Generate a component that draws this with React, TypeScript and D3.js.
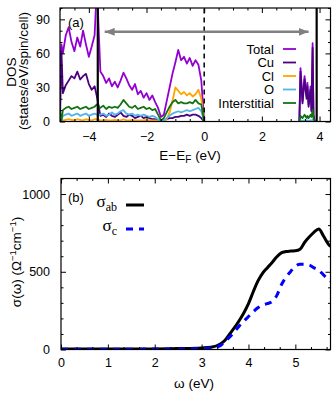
import React, { useEffect, useRef } from "react";
import * as d3 from "d3";

// ---- panel (a): DOS, states/eV/spin/cell ----
// valence states left of the core edge
const energyA = [-5.0, -4.95, -4.9, -4.8, -4.7, -4.6, -4.5, -4.4, -4.3, -4.2, -4.1, -4.0, -3.9, -3.8, -3.72];
const totalA = [45, 68, 60, 76, 83, 70, 62, 74, 66, 80, 68, 57, 66, 76, 120];
const cuA = [0, 62, 25, 32, 36, 40, 38, 44, 37, 40, 42, 33, 28, 31, 22];
const clA = [1, 0, 1, 1.5, 2, 1.5, 1, 2, 1.5, 1, 2, 1.5, 1, 2, 2];
const oA = [6, 1, 5, 6, 7, 5, 6, 7, 5, 6, 7, 5, 6, 7, 6];
const intA = [10, 1, 10, 12, 13, 11, 12, 13, 11, 12, 13, 11, 12, 13, 15];

// valence states between the core edge and E_F
const energyB = [
  -3.6, -3.5, -3.4, -3.3, -3.2, -3.1, -3.0, -2.9, -2.8, -2.7, -2.6, -2.5, -2.4, -2.3, -2.2, -2.1, -2.0, -1.9, -1.8,
  -1.7, -1.6, -1.5, -1.4, -1.3, -1.2, -1.1, -1.0, -0.9, -0.8, -0.7, -0.6, -0.5, -0.4, -0.3, -0.2, -0.1, 0.0,
];
const totalB = [44, 40, 34, 38, 31, 35, 30, 36, 43, 38, 32, 28, 33, 24, 27, 21, 25, 19, 23, 17, 12, 4, 6, 18, 30, 42, 52, 63, 54, 57, 51, 56, 49, 54, 50, 36, 0];
const cuB = [5, 6, 4, 7, 5, 4, 6, 8, 5, 4, 6, 5, 3, 4, 5, 3, 4, 3, 2, 2, 1, 0, 1, 2, 3, 3, 4, 4, 5, 5, 6, 5, 6, 6, 5, 3, 0];
const clB = [1, 1, 1.5, 1, 1, 1.5, 1, 1, 2, 1, 1, 1.5, 1, 1, 1, 1, 1.5, 1, 1, 1, 0.5, 0, 0.5, 2, 8, 18, 30, 27, 24, 26, 23, 25, 22, 24, 28, 20, 0];
const oB = [6, 7, 5, 6, 8, 6, 7, 9, 10, 7, 6, 7, 5, 6, 5, 6, 5, 4, 5, 4, 2, 0, 1, 3, 5, 7, 8, 9, 8, 9, 10, 9, 10, 11, 12, 9, 0];
const intB = [12, 14, 11, 13, 12, 13, 12, 15, 19, 16, 13, 12, 14, 11, 12, 13, 11, 12, 10, 11, 6, 1, 3, 8, 13, 17, 19, 16, 17, 16, 16, 17, 16, 19, 16, 15, 0];

// conduction states
const energyC = [3.3, 3.34, 3.41, 3.48, 3.55, 3.58, 3.62, 3.69, 3.72, 3.76, 3.79, 3.83];
const totalC = [0, 47, 18, 40, 22, 34, 15, 31, 10, 69, 6, 0];
const cuC = [0, 44, 16, 37, 20, 31, 13, 28, 9, 65, 5, 0];
const clC = [0, 0.5, 0.3, 0.5, 0.3, 0.5, 0.3, 0.5, 0.3, 0.8, 0.3, 0];
const oC = [0, 1, 0.5, 1, 0.5, 1, 0.5, 1, 0.5, 1.5, 0.5, 0];
const intC = [0, 5, 3, 6, 3, 5, 3, 6, 4, 10, 3, 0];

const dosNames = ["Total", "Cu", "Cl", "O", "Interstitial"];
const dosColors = ["#9400d3", "#4d0082", "#ffa500", "#56b4e9", "#127312"];

const coreEdges = [-3.69, 3.9];
const fermiLevel = 0;
const gapArrow = { from: -3.45, to: 3.62, level: 79 };

// ---- panel (b): optical conductivity ----
const omega = [0, 0.5, 1.0, 1.5, 2.0, 2.5, 3.0, 3.2, 3.4, 3.5, 3.6, 3.7, 3.8, 3.9, 4.0, 4.1, 4.2, 4.3, 4.4, 4.5, 4.6, 4.7, 4.8, 4.9, 5.0, 5.1, 5.2, 5.3, 5.4, 5.5, 5.6, 5.7, 5.75];
const sigmaAB = [3, 3, 3, 4, 4, 6, 10, 14, 35, 60, 100, 140, 185, 235, 295, 370, 440, 490, 525, 558, 595, 622, 630, 633, 635, 645, 690, 725, 755, 775, 730, 680, 662];
const sigmaC = [2, 2, 2, 2, 3, 4, 6, 9, 25, 52, 80, 115, 150, 182, 212, 242, 268, 285, 295, 308, 345, 415, 465, 502, 535, 548, 548, 543, 525, 510, 480, 452, 440];

const W = 332;
const H = 393;
const FONT = "'Liberation Sans', Arial, sans-serif";
const SERIF = "'Liberation Serif', 'Times New Roman', serif";

function frame(g, x, y, xMajor, xMinor, yMajor, yMinor, xPad, yPad) {
  const [xl, xr] = x.range();
  const [yb, yt] = y.range();
  const style = (sel) => {
    sel.select(".domain").remove();
    sel.selectAll("line").attr("stroke", "#000").attr("stroke-width", 1);
    sel.attr("font-family", FONT).attr("font-size", 12.5);
    sel.selectAll("text").attr("fill", "#000");
  };
  const blank = () => "";
  const fmt = d3.format("d");
  g.append("g").attr("transform", `translate(0,${yb})`)
    .call(d3.axisBottom(x).tickValues(xMajor).tickSizeInner(-5).tickSizeOuter(0).tickPadding(xPad).tickFormat(fmt)).call(style);
  g.append("g").attr("transform", `translate(0,${yb})`)
    .call(d3.axisBottom(x).tickValues(xMinor).tickSizeInner(-2.5).tickSizeOuter(0).tickFormat(blank)).call(style);
  g.append("g").attr("transform", `translate(0,${yt})`)
    .call(d3.axisTop(x).tickValues(xMajor).tickSizeInner(-5).tickSizeOuter(0).tickFormat(blank)).call(style);
  g.append("g").attr("transform", `translate(0,${yt})`)
    .call(d3.axisTop(x).tickValues(xMinor).tickSizeInner(-2.5).tickSizeOuter(0).tickFormat(blank)).call(style);
  g.append("g").attr("transform", `translate(${xl},0)`)
    .call(d3.axisLeft(y).tickValues(yMajor).tickSizeInner(-5).tickSizeOuter(0).tickPadding(yPad).tickFormat(fmt)).call(style);
  g.append("g").attr("transform", `translate(${xl},0)`)
    .call(d3.axisLeft(y).tickValues(yMinor).tickSizeInner(-2.5).tickSizeOuter(0).tickFormat(blank)).call(style);
  g.append("g").attr("transform", `translate(${xr},0)`)
    .call(d3.axisRight(y).tickValues(yMajor).tickSizeInner(-5).tickSizeOuter(0).tickFormat(blank)).call(style);
  g.append("g").attr("transform", `translate(${xr},0)`)
    .call(d3.axisRight(y).tickValues(yMinor).tickSizeInner(-2.5).tickSizeOuter(0).tickFormat(blank)).call(style);
  g.append("rect")
    .attr("x", xl).attr("y", yt).attr("width", xr - xl).attr("height", yb - yt)
    .attr("fill", "none").attr("stroke", "#000").attr("stroke-width", 1.2);
}

export default function App() {
  const ref = useRef(null);

  useEffect(() => {
    const svg = d3.select(ref.current);
    svg.selectAll("*").remove();

    // ---------- panel (a) ----------
    const xa = d3.scaleLinear().domain([-5.0, 4.38]).range([60, 330.5]);
    const ya = d3.scaleLinear().domain([0, 100]).range([121.5, 8]);

    const defs = svg.append("defs");
    defs.append("clipPath").attr("id", "clipA").append("rect")
      .attr("x", 60).attr("y", 8).attr("width", 270.5).attr("height", 113.5);
    defs.append("marker").attr("id", "head").attr("viewBox", "0 0 10 8")
      .attr("refX", 10).attr("refY", 4).attr("markerWidth", 10).attr("markerHeight", 8)
      .attr("markerUnits", "userSpaceOnUse").attr("orient", "auto-start-reverse")
      .append("path").attr("d", "M0,0 L10,4 L0,8 Z").attr("fill", "#808080");

    const ga = svg.append("g");
    const curves = ga.append("g").attr("clip-path", "url(#clipA)");
    const line = d3.line().x((d) => xa(d[0])).y((d) => ya(d[1]));

    const valenceE = energyA.concat(energyB);
    const valence = [
      totalA.concat(totalB), cuA.concat(cuB), clA.concat(clB), oA.concat(oB), intA.concat(intB),
    ];
    const conduction = [totalC, cuC, clC, oC, intC];

    dosNames.forEach((name, i) => {
      curves.append("path")
        .datum(valenceE.map((e, j) => [e, valence[i][j]]))
        .attr("fill", "none").attr("stroke", dosColors[i]).attr("stroke-width", 1.8)
        .attr("stroke-linejoin", "round").attr("d", line);
      curves.append("path")
        .datum(energyC.map((e, j) => [e, conduction[i][j]]))
        .attr("fill", "none").attr("stroke", dosColors[i]).attr("stroke-width", 1.8)
        .attr("stroke-linejoin", "round").attr("d", line);
    });

    coreEdges.forEach((e) => {
      ga.append("line").attr("x1", xa(e)).attr("x2", xa(e)).attr("y1", ya(0)).attr("y2", ya(100))
        .attr("stroke", "#000").attr("stroke-width", 2.2);
    });
    ga.append("line").attr("x1", xa(fermiLevel)).attr("x2", xa(fermiLevel)).attr("y1", ya(0)).attr("y2", ya(100))
      .attr("stroke", "#000").attr("stroke-width", 1.5).attr("stroke-dasharray", "5,4");

    ga.append("line")
      .attr("x1", xa(gapArrow.from)).attr("x2", xa(gapArrow.to))
      .attr("y1", ya(gapArrow.level)).attr("y2", ya(gapArrow.level))
      .attr("stroke", "#808080").attr("stroke-width", 2.5)
      .attr("marker-start", "url(#head)").attr("marker-end", "url(#head)");

    frame(ga, xa, ya, [-4, -2, 0, 2, 4], [-5, -4.5, -3.5, -3, -2.5, -1.5, -1, -0.5, 0.5, 1, 1.5, 2.5, 3, 3.5],
      [0, 30, 60, 90], [10, 20, 40, 50, 70, 80, 100], 10.5, 10);

    // legend (a)
    const lg = ga.append("g").attr("font-family", FONT).attr("font-size", 13);
    dosNames.forEach((name, i) => {
      const yy = 49 + i * 13.5;
      lg.append("text").attr("x", 274).attr("y", yy).attr("dy", "0.35em")
        .attr("text-anchor", "end").attr("fill", "#000").text(name);
      lg.append("line").attr("x1", 283).attr("x2", 296).attr("y1", yy).attr("y2", yy)
        .attr("stroke", dosColors[i]).attr("stroke-width", 1.8);
    });

    ga.append("text").attr("x", 68).attr("y", 26.5).attr("font-family", FONT).attr("font-size", 13).text("(a)");

    const xl = ga.append("text").attr("x", 190).attr("y", 159.5).attr("text-anchor", "middle")
      .attr("font-family", FONT).attr("font-size", 13.5);
    xl.append("tspan").text("E\u2212E");
    xl.append("tspan").attr("font-size", 10).attr("dy", 3).text("F");
    xl.append("tspan").attr("dy", -3).text(" (eV)");

    ga.append("text").attr("transform", "translate(16,72) rotate(-90)").attr("text-anchor", "middle")
      .attr("font-family", FONT).attr("font-size", 13.5).text("DOS");
    ga.append("text").attr("transform", "translate(28,71) rotate(-90)").attr("text-anchor", "middle")
      .attr("font-family", FONT).attr("font-size", 13.5).text("(states/eV/spin/cell)");

    // ---------- panel (b) ----------
    const xb = d3.scaleLinear().domain([0, 5.75]).range([61, 330.5]);
    const yb = d3.scaleLinear().domain([0, 1100]).range([349.5, 178.5]);
    defs.append("clipPath").attr("id", "clipB").append("rect")
      .attr("x", 61).attr("y", 178.5).attr("width", 269.5).attr("height", 171);

    const gb = svg.append("g");
    const lineB = d3.line().x((d) => xb(d[0])).y((d) => yb(d[1])).curve(d3.curveMonotoneX);
    const cb = gb.append("g").attr("clip-path", "url(#clipB)");
    cb.append("path").datum(omega.map((w, j) => [w, sigmaAB[j]]))
      .attr("fill", "none").attr("stroke", "#000").attr("stroke-width", 3).attr("d", lineB);
    cb.append("path").datum(omega.map((w, j) => [w, sigmaC[j]]))
      .attr("fill", "none").attr("stroke", "#0000ff").attr("stroke-width", 3)
      .attr("stroke-dasharray", "7,6").attr("d", lineB);

    const third = 1 / 3;
    const minorB = [];
    for (let k = 0; k < 18; k++) if (k % 3 !== 0) minorB.push(k * third);
    frame(gb, xb, yb, [0, 1, 2, 3, 4, 5], minorB, [0, 500, 1000],
      [100, 200, 300, 400, 600, 700, 800, 900, 1100], 8.5, 11);

    gb.append("text").attr("x", 68).attr("y", 201.5).attr("font-family", FONT).attr("font-size", 13).text("(b)");

    const sAB = gb.append("text").attr("x", 117).attr("y", 207).attr("text-anchor", "end")
      .attr("font-family", SERIF).attr("font-size", 17);
    sAB.append("tspan").text("σ");
    sAB.append("tspan").attr("font-size", 12).attr("dy", 4).text("ab");
    gb.append("line").attr("x1", 126).attr("x2", 144).attr("y1", 205).attr("y2", 205)
      .attr("stroke", "#000").attr("stroke-width", 3);

    const sC = gb.append("text").attr("x", 117).attr("y", 231).attr("text-anchor", "end")
      .attr("font-family", SERIF).attr("font-size", 17);
    sC.append("tspan").text("σ");
    sC.append("tspan").attr("font-size", 12).attr("dy", 4).text("c");
    gb.append("line").attr("x1", 126).attr("x2", 144).attr("y1", 229).attr("y2", 229)
      .attr("stroke", "#0000ff").attr("stroke-width", 3).attr("stroke-dasharray", "7,6");

    gb.append("text").attr("x", 194).attr("y", 388).attr("text-anchor", "middle")
      .attr("font-family", FONT).attr("font-size", 13.5).text("ω (eV)");

    const yl = gb.append("text").attr("transform", "translate(21,262) rotate(-90)").attr("text-anchor", "middle")
      .attr("font-family", FONT).attr("font-size", 13.5);
    yl.append("tspan").text("σ(ω) (Ω");
    yl.append("tspan").attr("font-size", 9.5).attr("dy", -5).text("−1");
    yl.append("tspan").attr("dy", 5).text("cm");
    yl.append("tspan").attr("font-size", 9.5).attr("dy", -5).text("−1");
    yl.append("tspan").attr("dy", 5).text(")");
  }, []);

  return (
    <svg
      ref={ref}
      width={W}
      height={H}
      style={{ position: "absolute", left: 0, top: 0, background: "#fff" }}
    />
  );
}
